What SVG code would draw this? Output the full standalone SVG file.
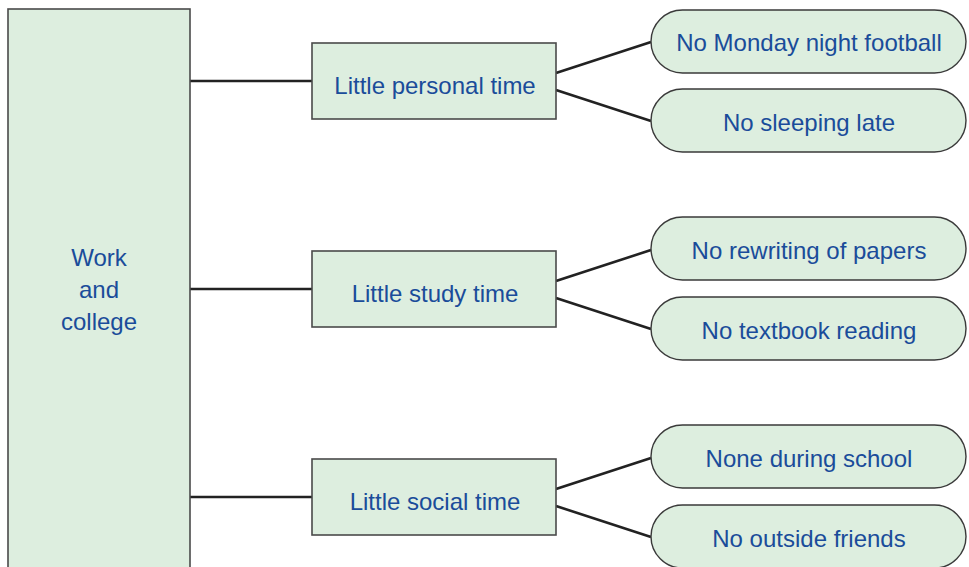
<svg xmlns="http://www.w3.org/2000/svg" width="969" height="567" viewBox="0 0 969 567">
<style>
.box{fill:#ddeedf;stroke:#4a4a4a;stroke-width:1.6}
.pill{fill:#ddeedf;stroke:#3a3a3a;stroke-width:1.4}
.con{stroke:#222;stroke-width:2.6;fill:none}
text{font-family:"Liberation Sans",Arial,sans-serif;font-size:24px;fill:#1a4c9a;text-anchor:middle;dominant-baseline:central}
</style>
<rect width="969" height="567" fill="#fff"/>
<g id="connectors">
<line class="con" x1="190" y1="81" x2="312" y2="81"/>
<line class="con" x1="190" y1="289" x2="312" y2="289"/>
<line class="con" x1="190" y1="497" x2="312" y2="497"/>
<line class="con" x1="556" y1="73" x2="651" y2="42"/>
<line class="con" x1="556" y1="90" x2="651" y2="121"/>
<line class="con" x1="556" y1="281" x2="651" y2="250"/>
<line class="con" x1="556" y1="298" x2="651" y2="329"/>
<line class="con" x1="556" y1="489" x2="651" y2="458"/>
<line class="con" x1="556" y1="506" x2="651" y2="537"/>
</g>
<g id="work-college">
<rect class="box" x="8" y="9" width="182" height="570"/>
<text x="99" y="257">Work</text>
<text x="99" y="289">and</text>
<text x="99" y="321">college</text>
</g>
<g id="personal">
<rect class="box" x="312" y="43" width="244" height="76"/>
<text x="435" y="85">Little personal time</text>
</g>
<g id="study">
<rect class="box" x="312" y="251" width="244" height="76"/>
<text x="435" y="293">Little study time</text>
</g>
<g id="social">
<rect class="box" x="312" y="459" width="244" height="76"/>
<text x="435" y="501">Little social time</text>
</g>
<g id="football">
<rect class="pill" x="651" y="10" width="315" height="63" rx="31.5"/>
<text x="809" y="42">No Monday night football</text>
</g>
<g id="sleeping">
<rect class="pill" x="651" y="89" width="315" height="63" rx="31.5"/>
<text x="809" y="122">No sleeping late</text>
</g>
<g id="rewriting">
<rect class="pill" x="651" y="217" width="315" height="63" rx="31.5"/>
<text x="809" y="250">No rewriting of papers</text>
</g>
<g id="textbook">
<rect class="pill" x="651" y="297" width="315" height="63" rx="31.5"/>
<text x="809" y="330">No textbook reading</text>
</g>
<g id="school">
<rect class="pill" x="651" y="425" width="315" height="63" rx="31.5"/>
<text x="809" y="458">None during school</text>
</g>
<g id="friends">
<rect class="pill" x="651" y="505" width="315" height="63" rx="31.5"/>
<text x="809" y="538">No outside friends</text>
</g>
</svg>
